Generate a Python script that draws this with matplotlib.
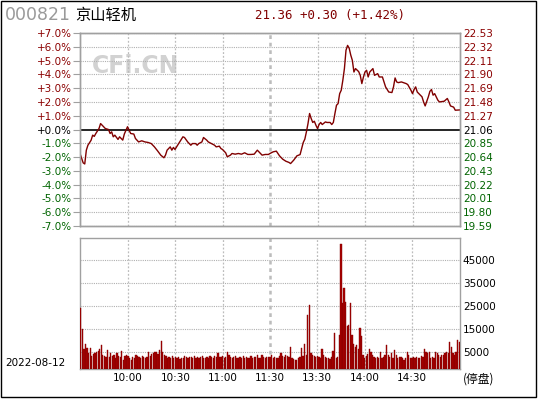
import matplotlib
matplotlib.use('Agg')
import matplotlib.pyplot as plt
from matplotlib.patches import Rectangle

plt.rcParams['font.family'] = ['DejaVu Sans', 'Noto Sans CJK SC']

# --- data ---
prev_close = 21.06
stock_code = '000821'
stock_name = '京山轻机'
quote_text = '21.36 +0.30 (+1.42%)'
trade_date = '2022-08-12'

# minute index (0 = 9:30, 120 = 11:30/13:00, 240 = 15:00) and % change
price_min = [0, 2, 3, 4, 5, 7, 8, 9, 10, 12, 13, 15, 16, 18, 19, 20, 21, 22, 24, 25,
             27, 28, 30, 31, 32, 34, 35, 37, 39, 41, 43, 45, 47, 49, 51, 53, 54, 55, 57, 58,
             59, 60, 61, 63, 65, 66, 68, 70, 71, 73, 74, 75, 77, 78, 80, 81, 83, 85, 86, 88,
             89, 90, 92, 93, 95, 96, 98, 100, 102, 104, 106, 108, 110, 112, 114, 115, 117, 119, 120, 122,
             124, 126, 128, 130, 132, 133, 135, 137, 139, 140, 141, 142, 143, 144, 145, 146, 147, 148, 149, 150,
             151, 152, 153, 155, 156, 158, 159, 160, 161, 162, 163, 164, 165, 166, 167, 168, 169, 170, 171, 172,
             173, 174, 176, 177, 178, 179, 180, 181, 182, 183, 185, 186, 188, 189, 191, 192, 193, 195, 197, 198,
             199, 200, 201, 203, 206, 207, 209, 210, 211, 212, 213, 215, 216, 217, 218, 220, 221, 222, 223, 224,
             226, 227, 230, 232, 233, 234, 236, 237, 240]
price_pct = [-1.74, -2.42, -2.5, -1.5, -1.14, -0.78, -0.41, -0.5, -0.29, 0.07, 0.43, 0.19, 0.07, 0.0, -0.29, -0.17, -0.53, -0.41, -0.72, -0.53,
             -0.77, -0.33, 0.2, -0.05, -0.29, -0.33, -0.65, -0.9, -0.82, -0.9, -0.94, -1.02, -1.26, -1.55, -1.86, -2.05, -1.86, -1.5, -1.26, -1.5,
             -1.3, -1.45, -1.26, -0.9, -0.53, -0.58, -0.9, -1.14, -1.02, -1.02, -1.14, -1.02, -0.9, -0.58, -0.77, -0.9, -1.02, -1.14, -1.26, -1.21,
             -1.38, -1.45, -1.69, -1.98, -1.86, -1.74, -1.79, -1.74, -1.79, -1.69, -1.81, -1.81, -1.79, -1.5, -1.74, -1.86, -1.81, -1.81, -1.74, -1.62,
             -1.57, -1.91, -2.15, -2.3, -2.39, -2.47, -2.22, -1.91, -1.82, -1.38, -0.94, -0.7, -0.17, 0.43, 1.16, 0.8, 0.51, 0.6, 0.31, 0.07,
             0.36, 0.51, 0.36, 0.55, 0.51, 0.51, 0.36, 0.51, 1.16, 1.76, 1.88, 2.6, 2.85, 3.57, 4.42, 5.75, 6.1, 5.9, 5.4, 5.02,
             4.17, 4.42, 4.2, 3.93, 3.33, 3.8, 4.17, 4.3, 3.81, 4.17, 4.42, 3.93, 4.05, 3.81, 3.81, 3.45, 3.09, 2.72, 2.68, 3.09,
             3.74, 3.45, 3.4, 3.45, 3.33, 3.26, 2.85, 2.6, 2.9, 3.09, 2.72, 2.49, 2.37, 2.0, 1.71, 2.37, 2.77, 2.9, 2.49, 2.6,
             2.13, 2.0, 2.05, 2.25, 2.0, 1.71, 1.62, 1.4, 1.42]

# volume per minute, 241 bars
volume = [24000, 15000, 6000, 8500, 6500, 4500, 6400, 3000, 4000, 4500,
          4800, 5200, 6000, 7800, 3500, 3000, 2800, 5500, 2500, 4500,
          3000, 3500, 2000, 4500, 3000, 2500, 5200, 1500, 3000, 3500,
          3000, 2000, 1500, 2500, 2000, 3500, 3200, 2500, 2000, 3000,
          2500, 2000, 2500, 5000, 3000, 3800, 4500, 4800, 5000, 4000,
          5500, 9600, 5000, 3500, 3000, 2000, 2500, 2200, 3000, 2000,
          2500, 2000, 2800, 1800, 2400, 2200, 3000, 2500, 2000, 2800,
          2500, 2000, 3000, 2400, 2800, 2200, 2500, 3000, 2400, 2200,
          2800, 2000, 3000, 2600, 2200, 3200, 2800, 4300, 2500, 2800,
          3000, 2200, 2600, 5000, 3500, 2800, 2200, 2600, 3000, 2400,
          2000, 2800, 2400, 3000, 2200, 2600, 2000, 2400, 3000, 2200,
          2500, 2800, 3500, 2200, 2000, 3300, 2600, 2200, 2800, 2500,
          2500, 3300, 2200, 2800, 2000, 2400, 3000, 4200, 3000, 2600,
          3500, 3000, 2600, 7200, 2400, 1800, 1500, 1400, 2000, 2500,
          6400, 3000, 8200, 3500, 21000, 25400, 4300, 3500, 3000, 2500,
          3200, 2800, 2400, 6000, 3500, 2800, 2200, 2000, 1800, 2500,
          5400, 13000, 2000, 2500, 12300, 51900, 26000, 32700, 26800, 16300,
          16600, 26100, 12300, 8200, 7200, 7800, 6000, 15200, 11600, 3500,
          2200, 3000, 4000, 6200, 5000, 3500, 2800, 2200, 2800, 2200,
          4700, 2200, 2800, 3500, 7900, 3500, 2800, 4300, 2400, 5700,
          3500, 2200, 2800, 2800, 2200, 1500, 2400, 5000, 3300, 2200,
          2000, 2600, 2200, 2800, 2400, 2000, 3200, 2600, 6000, 5000,
          4300, 5000, 2200, 2800, 2000, 5000, 4300, 3500, 2800, 3300,
          3500, 4300, 5000, 4300, 9300, 7200, 4300, 3500, 5000, 10100,
          9000]

pct_ticks = [7, 6, 5, 4, 3, 2, 1, 0, -1, -2, -3, -4, -5, -6, -7]
pct_labels = ['+7.0%', '+6.0%', '+5.0%', '+4.0%', '+3.0%', '+2.0%', '+1.0%', '+0.0%',
              '-1.0%', '-2.0%', '-3.0%', '-4.0%', '-5.0%', '-6.0%', '-7.0%']
price_labels = ['22.53', '22.32', '22.11', '21.90', '21.69', '21.48', '21.27', '21.06',
                '20.85', '20.64', '20.43', '20.22', '20.01', '19.80', '19.59']
vol_ticks = [5000, 15000, 25000, 35000, 45000]
time_ticks = [30, 60, 90, 120, 150, 180, 210]
time_labels = ['10:00', '10:30', '11:00', '11:30', '13:30', '14:00', '14:30']

red = '#8b0000'
green = '#006400'
grid_c = '#b0b0b0'
frame_c = '#a0a0a0'

fig = plt.figure(figsize=(5.4, 4.0), dpi=100)
fig.patch.set_facecolor('white')

ax = fig.add_axes([80 / 540, 1 - 226 / 400, 380 / 540, 193 / 400])
axv = fig.add_axes([80 / 540, 1 - 369 / 400, 380 / 540, 131 / 400])

# price panel
ax.set_xlim(0, 240)
ax.set_ylim(-7, 7)
for t in pct_ticks:
    if t != 0:
        ax.axhline(t, color=grid_c, lw=0.8, ls=(0, (1, 1)), zorder=1)
for t in time_ticks:
    ax.axvline(t, color='#bcbcbc', lw=1.8 if t == 120 else 0.9, ls=(0, (1.5, 1.5)), zorder=1)
ax.axhline(0, color='black', lw=1.2, zorder=2)
ax.plot(price_min, price_pct, color='#800000', lw=1.0, zorder=3)

ax.set_yticks(pct_ticks)
ax.set_yticklabels(pct_labels)
ax.set_xticks([])
ax.tick_params(axis='y', length=5, color=frame_c, labelsize=7.5, pad=1)
for lab, t in zip(ax.get_yticklabels(), pct_ticks):
    lab.set_color(red if t > 0 else ('black' if t == 0 else green))

axr = ax.twinx()
axr.set_ylim(-7, 7)
axr.set_yticks(pct_ticks)
axr.set_yticklabels(price_labels)
axr.tick_params(axis='y', length=0, labelsize=7.5, pad=2)
for lab, t in zip(axr.get_yticklabels(), pct_ticks):
    lab.set_color(red if t > 0 else ('black' if t == 0 else green))

for a in (ax, axr, axv):
    for s in a.spines.values():
        s.set_color(frame_c)
        s.set_linewidth(1.0)

ax.text(0.03, 0.83, 'CFi.CN', transform=ax.transAxes, fontsize=17, fontweight='bold',
        color='#d2d2d2', ha='left', va='center', zorder=0)

# volume panel
vol_bottom = -2600
axv.set_xlim(-0.5, 240.5)
axv.set_ylim(vol_bottom, 54500)
for t in vol_ticks:
    axv.axhline(t, color=grid_c, lw=0.8, ls=(0, (1, 1)), zorder=1)
for t in time_ticks:
    axv.axvline(t, color='#bcbcbc', lw=1.8 if t == 120 else 0.9, ls=(0, (1.5, 1.5)), zorder=1)
vol_h = [v - vol_bottom for v in volume]
axv.bar(range(len(volume)), vol_h, bottom=vol_bottom, width=0.8, color='#a80000',
        edgecolor='#800000', linewidth=0.3, zorder=3)
axv.yaxis.tick_right()
axv.set_yticks(vol_ticks)
axv.set_yticklabels([str(v) for v in vol_ticks])
axv.tick_params(axis='y', length=0, labelsize=7.5, pad=2, labelcolor='black')
axv.set_xticks(time_ticks)
axv.set_xticklabels(time_labels)
axv.tick_params(axis='x', length=0, labelsize=7.5, pad=3)

# header and footer texts
fig.text(5 / 540, 1 - 15 / 400, stock_code, fontsize=12.5, color='#9a9a9a', ha='left', va='center')
fig.text(75 / 540, 1 - 15 / 400, stock_name, fontsize=11, color='black', ha='left', va='center',
         family=['Noto Sans CJK SC', 'DejaVu Sans'])
fig.text(255 / 540, 1 - 15 / 400, quote_text, fontsize=9, color='#800000', ha='left', va='center',
         family='DejaVu Sans Mono')
fig.text(5 / 540, 1 - 363 / 400, trade_date, fontsize=7.5, color='black', ha='left', va='center')
fig.text(463 / 540, 1 - 379 / 400, '(停盘)', fontsize=8.5, color='black', ha='left', va='center',
         family=['Noto Sans CJK SC', 'DejaVu Sans'])

fig.patches.append(Rectangle((1 / 540, 3 / 400), 535 / 540, 396 / 400, transform=fig.transFigure,
                             fill=False, edgecolor='black', lw=1.0))

fig.savefig('out.png', dpi=100)
